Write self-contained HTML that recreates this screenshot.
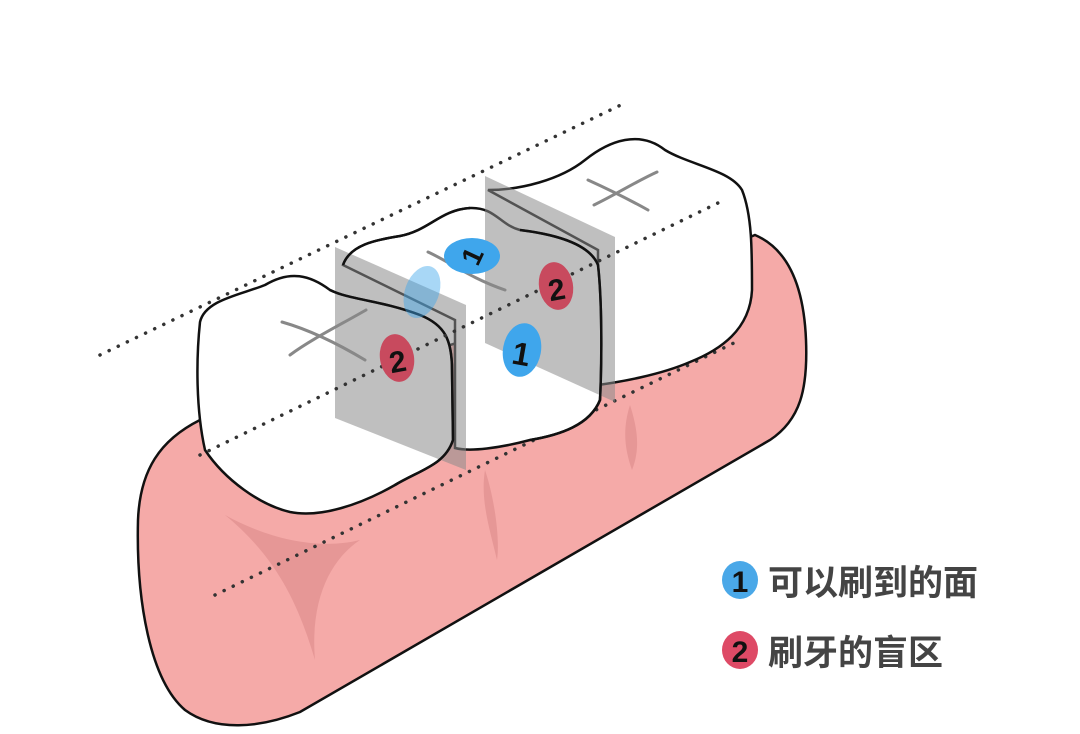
<!DOCTYPE html>
<html><head><meta charset="utf-8"><style>
html,body{margin:0;padding:0;background:#fff;}
svg{display:block}
text{font-family:"Liberation Sans","Noto Sans CJK SC",sans-serif;}
</style></head><body>
<svg width="1080" height="734" viewBox="0 0 1080 734" xmlns="http://www.w3.org/2000/svg">
<rect width="1080" height="734" fill="#fff"/>
<!-- gum -->
<path d="M200,420 C160,440 140,470 138,520 C136,600 150,680 185,710 C215,732 260,728 300,712 L770,440 C800,420 808,390 806,340 C804,290 790,250 755,235 L600,300 Z" fill="#f5aaa8" stroke="#111" stroke-width="2.5"/>
<g fill="#e08e8e" opacity="0.7">
<path d="M225,515 C270,540 320,550 360,540 C330,560 310,600 315,660 C300,610 280,560 225,515 Z"/>
<path d="M485,470 C495,500 500,540 497,560 C490,530 480,500 485,470 Z"/>
<path d="M630,405 C638,430 640,450 632,470 C625,450 622,430 630,405 Z"/>
</g>
<!-- dotted lines -->
<g stroke="#333" stroke-width="3.5" stroke-dasharray="0.1 10" stroke-linecap="round" fill="none">
<line x1="100" y1="355" x2="625" y2="103"/>
<line x1="215" y1="595" x2="740" y2="340"/>
</g>
<!-- right tooth -->
<path d="M488,190 C520,190 560,180 585,160 C610,140 640,130 665,150 C690,165 730,170 742,190 C752,215 752,250 752,290 C750,330 720,350 690,362 C660,375 620,382 598,385 L598,250 Z" fill="#fff" stroke="#111" stroke-width="2.5"/>
<!-- middle tooth -->
<path d="M343,265 C350,245 375,240 400,236 C430,230 440,210 470,208 C495,207 500,225 520,230 C560,235 590,245 598,265 C602,300 602,360 600,400 C590,425 560,435 530,440 C500,448 470,452 455,448 L455,320 Z" fill="#fff" stroke="#111" stroke-width="2.5"/>
<!-- left tooth -->
<path d="M200,322 C205,300 240,295 265,285 C290,270 310,275 330,290 C350,300 380,300 420,315 C445,325 452,340 452,370 L453,440 C445,465 420,470 395,485 C360,505 320,518 290,512 C260,505 225,480 205,450 C196,410 196,360 200,322 Z" fill="#fff" stroke="#111" stroke-width="2.5"/>
<!-- planes -->
<polygon points="335,247 466,305 466,470 335,418" fill="#8a8a8a" opacity="0.55"/>
<polygon points="485,176 615,237 615,402 485,343" fill="#8a8a8a" opacity="0.55"/>
<!-- redraw tooth edges over planes -->
<path d="M343,265 C350,245 375,240 400,236 C430,230 440,210 470,208" fill="none" stroke="#111" stroke-width="2.5"/>
<path d="M520,230 C560,235 590,245 598,265 C602,300 602,360 600,400 C590,425 560,435 530,440" fill="none" stroke="#111" stroke-width="2.5"/>
<path d="M330,290 C350,300 380,300 420,315 C445,325 452,340 452,370 L453,440 C445,465 420,470 395,485" fill="none" stroke="#111" stroke-width="2.5"/>
<line x1="200" y1="455" x2="720" y2="202" stroke="#333" stroke-width="3.5" stroke-dasharray="0.1 10" stroke-linecap="round"/>
<!-- fissures -->
<g stroke="#888" stroke-width="3" fill="none" stroke-linecap="round">
<path d="M282,322 C310,330 340,345 365,360"/><path d="M290,355 C310,340 340,325 366,310"/>
<path d="M588,180 C610,190 630,200 648,210"/><path d="M594,205 C615,195 635,182 657,172"/>
<path d="M428,252 C450,262 470,278 505,290"/>
</g>
<!-- badges -->
<ellipse cx="397" cy="358" rx="17" ry="24" fill="#c84a5e" transform="rotate(-10 397 358)"/>
<text x="397" y="372" text-anchor="middle" font-size="30" font-weight="bold" fill="#111" transform="rotate(-10 397 358)">2</text>
<ellipse cx="556" cy="286" rx="17" ry="24" fill="#c84a5e" transform="rotate(-10 556 286)"/>
<text x="556" y="300" text-anchor="middle" font-size="30" font-weight="bold" fill="#111" transform="rotate(-10 556 286)">2</text>
<ellipse cx="522" cy="350" rx="19" ry="27" fill="#3fa6ec" transform="rotate(10 522 350)"/>
<text x="522" y="365" text-anchor="middle" font-size="32" font-weight="bold" fill="#111" transform="rotate(10 522 350)">1</text>
<ellipse cx="472" cy="256" rx="28" ry="18" fill="#3fa6ec"/>
<text x="472" y="266" text-anchor="middle" font-size="28" font-weight="bold" fill="#111" transform="rotate(-65 472 256)">1</text>
<ellipse cx="422" cy="292" rx="17" ry="27" fill="#3fa6ec" opacity="0.45" transform="rotate(20 422 292)"/>
<!-- legend -->
<ellipse cx="740" cy="580" rx="18" ry="19" fill="#4aa8e8"/>
<text x="740" y="592" text-anchor="middle" font-size="30" font-weight="bold" fill="#111">1</text>
<text x="768" y="595" font-size="35" font-weight="bold" fill="#444">可以刷到的面</text>
<ellipse cx="740" cy="650" rx="18" ry="19" fill="#de4a66"/>
<text x="740" y="662" text-anchor="middle" font-size="30" font-weight="bold" fill="#111">2</text>
<text x="768" y="665" font-size="35" font-weight="bold" fill="#444">刷牙的盲区</text>
</svg>
</body></html>
